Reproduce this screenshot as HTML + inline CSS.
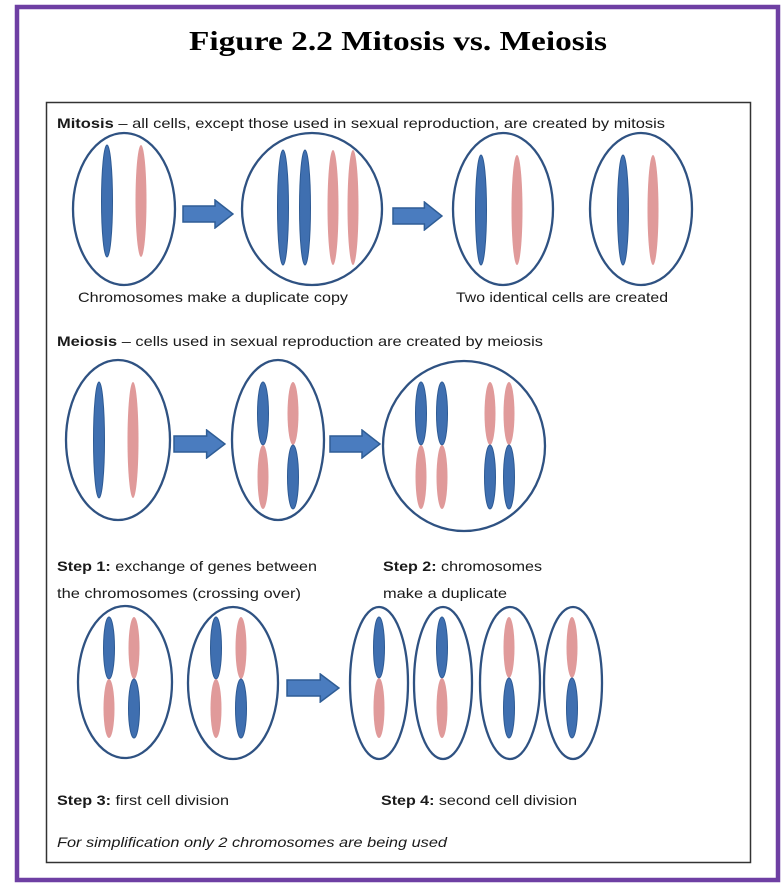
<!DOCTYPE html>
<html><head><meta charset="utf-8"><style>
html,body{margin:0;padding:0;background:#fff;}
svg{display:block;}
text{font-family:"Liberation Sans",sans-serif;fill:#1a1a1a;}
</style></head><body>
<svg width="784" height="886" viewBox="0 0 784 886">
<defs>
<symbol id="arr" viewBox="0 0 52 30" preserveAspectRatio="none"><path d="M1,7 H33 V1 L51,15 L33,29 V23 H1 Z" fill="#4a7cbf" stroke="#2f5d95" stroke-width="1.5"/></symbol>
</defs>
<rect x="17" y="7" width="761" height="873" fill="none" stroke="#6e3fa3" stroke-width="4.5"/>
<text x="398" y="50" text-anchor="middle" textLength="418" lengthAdjust="spacingAndGlyphs" style="font-family:'Liberation Serif',serif;font-weight:bold;font-size:27px;fill:#000">Figure 2.2 Mitosis vs. Meiosis</text>
<rect x="46.5" y="102.5" width="704" height="760" fill="none" stroke="#333" stroke-width="1.5"/>
<g font-size="14">
<text x="57" y="128" textLength="608" lengthAdjust="spacingAndGlyphs"><tspan font-weight="bold">Mitosis</tspan> – all cells, except those used in sexual reproduction,  are created by mitosis</text>
<text x="78" y="302" textLength="270" lengthAdjust="spacingAndGlyphs">Chromosomes make a duplicate copy</text>
<text x="456" y="302" textLength="212" lengthAdjust="spacingAndGlyphs">Two identical cells are created</text>
<text x="57" y="346" textLength="486" lengthAdjust="spacingAndGlyphs"><tspan font-weight="bold">Meiosis</tspan> – cells used in sexual reproduction  are created by meiosis</text>
<text x="57" y="571" textLength="260" lengthAdjust="spacingAndGlyphs"><tspan font-weight="bold">Step 1:</tspan> exchange of genes between</text>
<text x="57" y="598" textLength="244" lengthAdjust="spacingAndGlyphs">the chromosomes (crossing over)</text>
<text x="383" y="571" textLength="159" lengthAdjust="spacingAndGlyphs"><tspan font-weight="bold">Step 2:</tspan> chromosomes</text>
<text x="383" y="598" textLength="124" lengthAdjust="spacingAndGlyphs">make a duplicate</text>
<text x="57" y="805" textLength="172" lengthAdjust="spacingAndGlyphs"><tspan font-weight="bold">Step 3:</tspan> first cell division</text>
<text x="381" y="805" textLength="196" lengthAdjust="spacingAndGlyphs"><tspan font-weight="bold">Step 4:</tspan> second cell division</text>
<text x="57" y="847" font-style="italic" textLength="390" lengthAdjust="spacingAndGlyphs">For simplification only 2 chromosomes are being used</text>
</g>
<g id="shapes"></g>
</svg>
<script>
const NS='http://www.w3.org/2000/svg';
const g=document.getElementById('shapes');
const B='#3f6fb0',P='#e09a9a';
// cells: cx, cy, rx, ry
const cells=[[124,209,51,76],[312,209,70,76],[503,209,50,76],[641,209,51,76],
[118,440,52,80],[278,440,46,80],[464,446,81,85],
[125,682,47,76],[233,683,45,76],[379,683,29,76],[443,683,29,76],[510,683,30,76],[573,683,29,76]];
// single chromosomes: x, top, bottom, color
const singles=[[107,145,257,B],[141,145,257,P],[283,150,265,B],[305,150,265,B],[333,150,265,P],[353,150,265,P],
[481,155,265,B],[517,155,265,P],[623,155,265,B],[653,155,265,P],[99,382,498,B],[133,382,498,P]];
// crossed chromosomes: x, top, centromere, bottom, topColor, bottomColor
const crossed=[[263,382,445,509,B,P],[293,382,445,509,P,B],[421,382,445,509,B,P],[442,382,445,509,B,P],[490,382,445,509,P,B],[509,382,445,509,P,B],
[109,617,679,738,B,P],[134,617,679,738,P,B],[216,617,679,738,B,P],[241,617,679,738,P,B],
[379,617,678,738,B,P],[442,617,678,738,B,P],[509,617,678,738,P,B],[572,617,678,738,P,B]];
// arrows: x1, x2, cy
const arrows=[[182,234,214],[392,443,216],[173,226,444],[329,381,444],[286,340,688]];
function el(t,a){const e=document.createElementNS(NS,t);for(const k in a)e.setAttribute(k,a[k]);g.appendChild(e);return e;}
function chrom(x,y1,y2,c){const e=el('ellipse',{cx:x,cy:(y1+y2)/2,rx:5.5,ry:(y2-y1)/2,fill:c,stroke:c===B?'#2d5a94':'none','stroke-width':1});

}
cells.forEach(c=>{const e=el('ellipse',{cx:c[0],cy:c[1],rx:c[2],ry:c[3],fill:'none',stroke:'#2f5282','stroke-width':2.3});

});
singles.forEach(s=>chrom(s[0],s[1],s[2],s[3]));
crossed.forEach(s=>{chrom(s[0],s[1],s[2],s[4]);chrom(s[0],s[2],s[3],s[5]);});
arrows.forEach(a=>{const e=el('use',{href:'#arr',x:a[0],y:a[2]-15,width:a[1]-a[0],height:30});

});
</script>
</body></html>
